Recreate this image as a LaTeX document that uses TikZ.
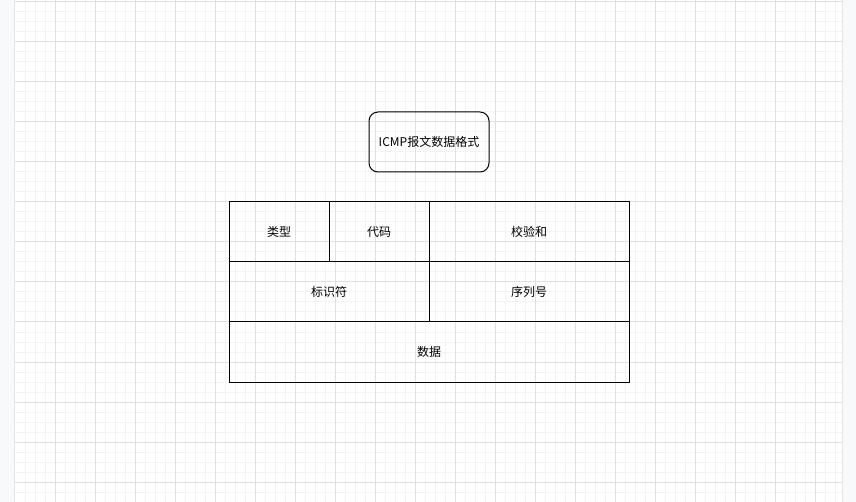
\documentclass[tikz,border=0pt]{standalone}
\usepackage{tikz}
\usepackage{xcolor}
\usepackage{fontspec}
\setmainfont{Noto Sans CJK SC}
\usetikzlibrary{positioning}
\definecolor{pagebg}{HTML}{F8F9FB}
\definecolor{pageedge}{HTML}{E3E4E6}
\definecolor{gridminor}{HTML}{F3F3F3}
\definecolor{gridmajor}{HTML}{E0E0E0}
\tikzstyle{titlebox} = [rectangle, rounded corners=9pt, minimum width=120pt, minimum height=60pt,
text centered, draw=black, line width=1pt, inner sep=0pt, font=\fontsize{12pt}{14pt}\selectfont]
\tikzstyle{cell} = [rectangle, minimum width=100pt, minimum height=60pt, text centered,
draw=black, line width=1pt, inner sep=0pt, outer sep=0pt, font=\fontsize{12pt}{14pt}\selectfont]
\tikzstyle{widecell} = [cell, minimum width=200pt]
\tikzstyle{fullcell} = [cell, minimum width=400pt]
\tikzstyle{minorline} = [gridminor, line width=1pt]
\tikzstyle{majorline} = [gridmajor, line width=1pt]

\begin{document}
\begin{tikzpicture}[x=1pt, y=-1pt]
        \useasboundingbox (0,0) rectangle (856,502);

        % Page and grid
        \fill[pagebg] (0,0) rectangle (856,502);
        \fill[white] (15,0) rectangle (842,502);
        \foreach \x in {25,35,...,835} \draw[minorline] (\x,0) -- (\x,502);
        \foreach \y in {12,22,...,502} \draw[minorline] (15,\y) -- (842,\y);
        \foreach \x in {55,95,...,815} \draw[majorline] (\x,0) -- (\x,502);
        \foreach \y in {2,42,...,482} \draw[majorline] (15,\y) -- (842,\y);
        \draw[pageedge, line width=1pt] (14.5,0) -- (14.5,502);
        \draw[pageedge, line width=1pt] (842.5,0) -- (842.5,502);

        % Title
        \node[titlebox] (title) at (429,142) {ICMP报文数据格式};

        % Header fields
        \node[cell] (type) at (279,232) {类型};
        \node[cell, right=0pt of type] (code) {代码};
        \node[widecell, right=0pt of code] (checksum) {校验和};

        \node[widecell, anchor=north west] (ident) at (type.south west) {标识符};
        \node[widecell, right=0pt of ident] (seqno) {序列号};

        \node[fullcell, anchor=north west] (data) at (ident.south west) {数据};

    \end{tikzpicture}
\end{document}
